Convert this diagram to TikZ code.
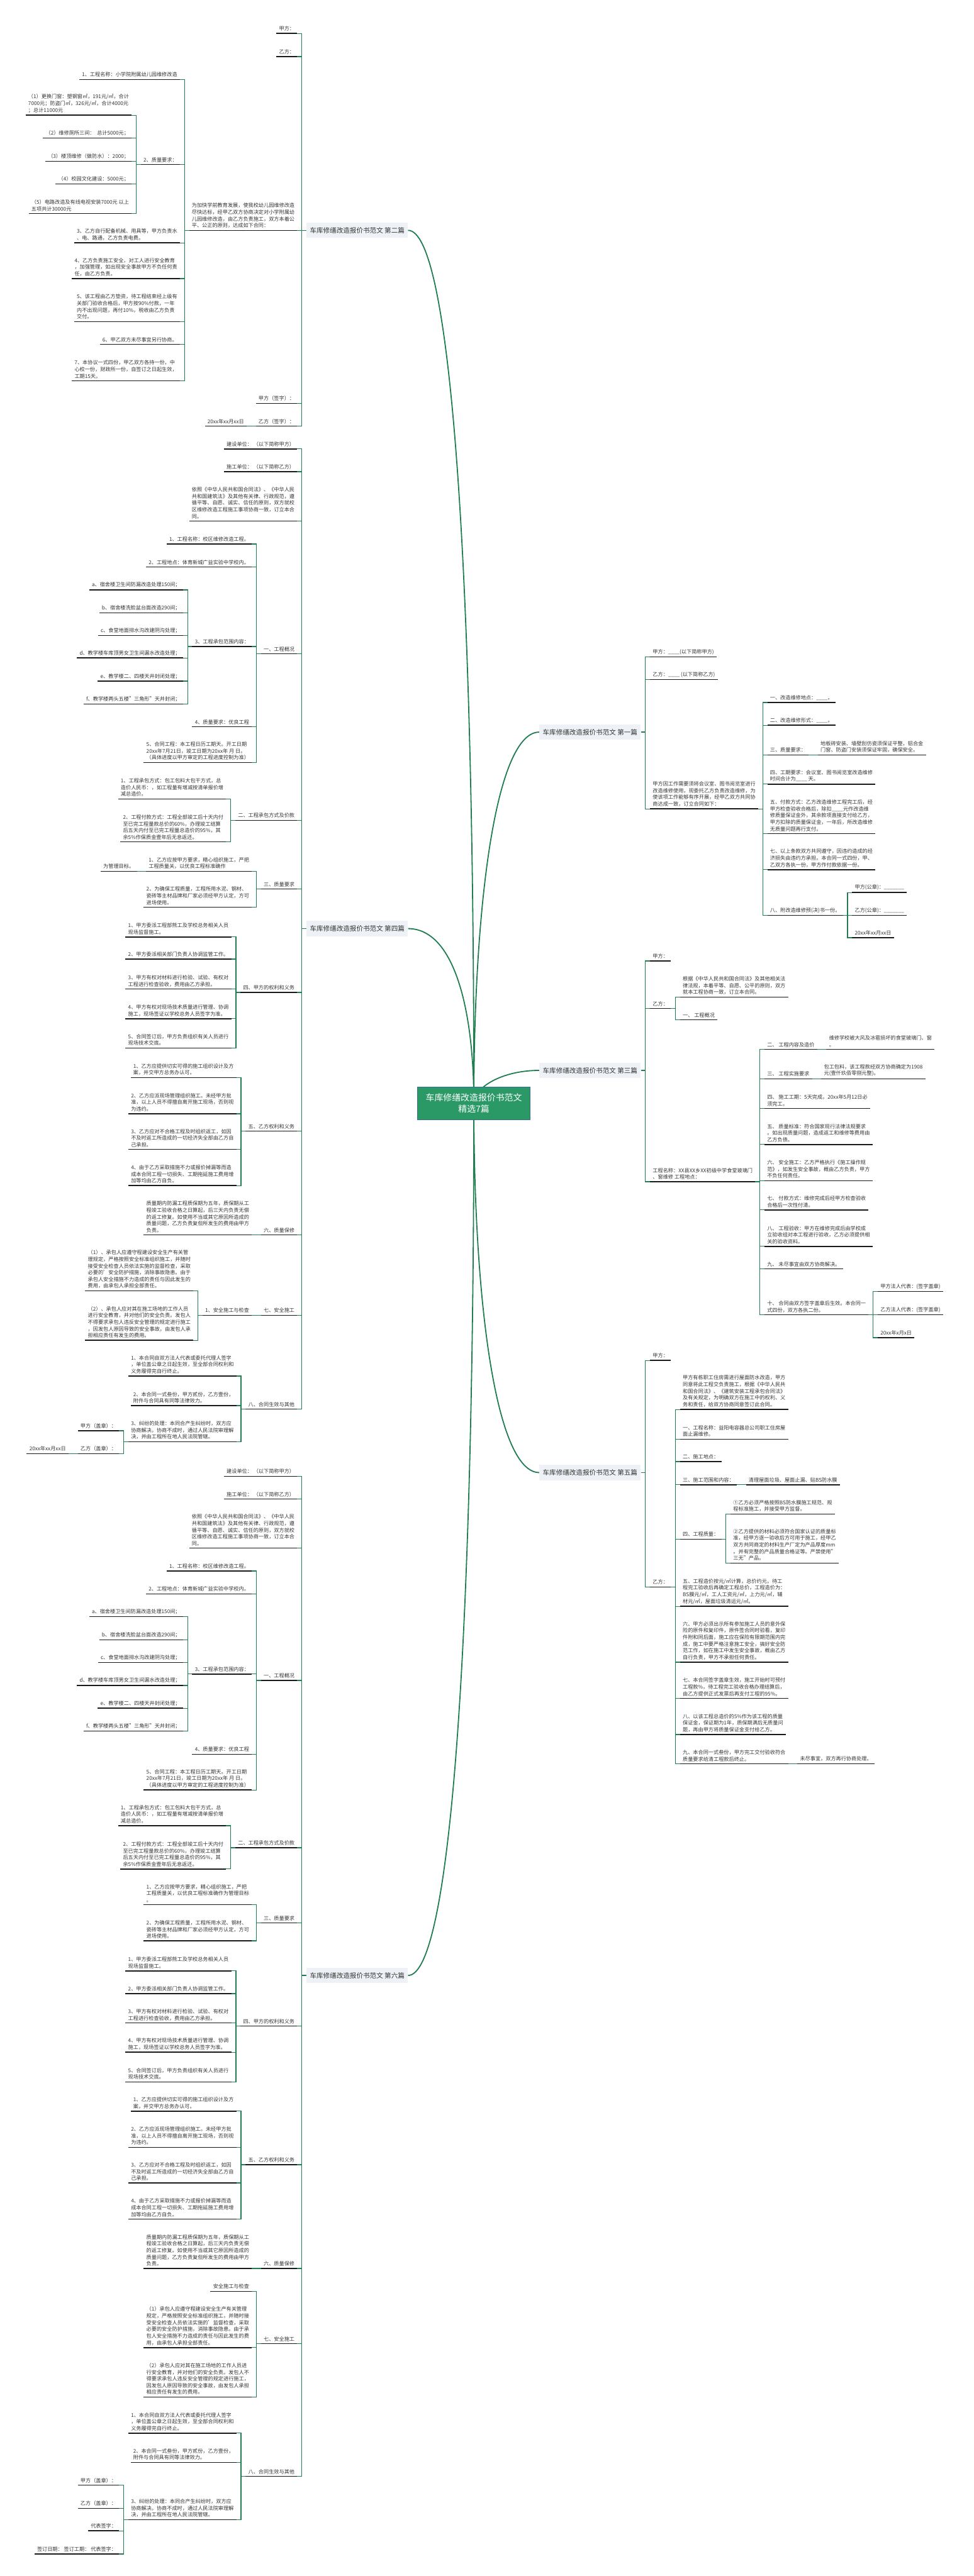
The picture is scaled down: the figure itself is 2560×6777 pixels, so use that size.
\documentclass[tikz,border=0pt]{standalone}
\usepackage{fontspec}
\setmainfont{Noto Sans CJK SC}
\usepackage{tikz}
\usetikzlibrary{positioning, backgrounds}
\definecolor{linegreen}{RGB}{32,125,82}
\definecolor{rootgreen}{RGB}{42,153,102}
\definecolor{rootedge}{RGB}{58,108,150}
\definecolor{boxgray}{RGB}{238,241,245}
\definecolor{txtgray}{RGB}{51,51,51}
\definecolor{ulblack}{RGB}{25,25,25}
\newcommand{\leaffont}{\fontsize{13.5}{17.6}\selectfont}
\newcommand{\branchfont}{\fontsize{17.5}{21}\selectfont}
\newcommand{\rootfont}{\fontsize{23}{30}\selectfont}

\begin{document}
\begin{tikzpicture}[x=1pt, y=-1pt,
  uline/.style={draw=ulblack, line width=2.4pt},
  leaf/.style={align=left, inner xsep=7pt, inner ysep=6pt, font=\leaffont, text=txtgray,
    append after command={(\tikzlastnode.south west) edge[uline] (\tikzlastnode.south east)}},
  lf/.style={leaf, anchor=south east, xshift=-24pt},
  rt/.style={leaf, anchor=south west, xshift=24pt},
  branchbox/.style={fill=boxgray, font=\branchfont, text=txtgray, minimum height=40pt, inner xsep=9pt},
  rootbox/.style={fill=rootgreen, draw=rootedge, line width=1.5pt, text=white, font=\rootfont,
    align=center, minimum width=295pt, minimum height=86pt},
  conn/.style={draw=linegreen, line width=2pt},
  trunk/.style={draw=linegreen, line width=3pt}
]
\useasboundingbox (0,0) rectangle (2560,6777);

\node[rootbox] (root) at (1246,2902) {车库修缮改造报价书范文\\精选7篇};

\node[branchbox, anchor=east] (b2) at (1073,606) {车库修缮改造报价书范文 第二篇};
\node[branchbox, anchor=east] (b4) at (1073,2443) {车库修缮改造报价书范文 第四篇};
\node[branchbox, anchor=east] (b6) at (1073,5197) {车库修缮改造报价书范文 第六篇};
\node[branchbox, anchor=west] (b1) at (1418,1926) {车库修缮改造报价书范文 第一篇};
\node[branchbox, anchor=west] (b3) at (1418,2816) {车库修缮改造报价书范文 第三篇};
\node[branchbox, anchor=west] (b5) at (1418,3874) {车库修缮改造报价书范文 第五篇};

% ---- 第二篇
\node[lf] (b2a) at (b2.west |- 0,88) {甲方：};
\node[lf] (b2b) at (b2.west |- 0,149) {乙方：};
\node[lf] (b2c) at (b2.west |- 0,606) {为加快学前教育发展，使我校幼儿园维修改造\\尽快达标，经甲乙双方协商决定对小学附属幼\\儿园维修改造，由乙方负责施工，双方本着公\\平、公正的原则，达成如下合同：};
\node[lf] (b2d) at (b2.west |- 0,1061) {甲方（签字）：};
\node[lf] (b2e) at (b2.west |- 0,1121) {乙方（签字）：};
\node[lf] (b2e1) at (b2e.south west |- 0,1121) {20xx年xx月xx日};
\node[lf] (b2c1) at (b2c.south west |- 0,209) {1、工程名称：小学院附属幼儿园维修改造};
\node[lf] (b2c2) at (b2c.south west |- 0,433) {2、质量要求：};
\node[lf] (b2c3) at (b2c.south west |- 0,639) {3、乙方自行配备机械、用具等，甲方负责水\\、电、路通，乙方负责电费。};
\node[lf] (b2c4) at (b2c.south west |- 0,733) {4、乙方负责施工安全，对工人进行安全教育\\，加强管理，如出现安全事故甲方不负任何责\\任，由乙方负责。};
\node[lf] (b2c5) at (b2c.south west |- 0,846) {5、该工程由乙方垫资，待工程结束经上级有\\关部门验收合格后，甲方按90\%付款，一年\\内不出现问题，再付10\%，税收由乙方负责\\交付。};
\node[lf] (b2c6) at (b2c.south west |- 0,906) {6、甲乙双方未尽事宜另行协商。};
\node[lf] (b2c7) at (b2c.south west |- 0,1002) {7、本协议一式四份，甲乙双方各持一份，中\\心校一份，财政所一份，自签订之日起生效，\\工期15天。};
\node[lf] (b2q1) at (b2c2.south west |- 0,303) {（1）更换门窗：塑钢窗㎡，191元/㎡，合计\\7000元；防盗门㎡，326元/㎡，合计4000元\\；总计11000元};
\node[lf] (b2q2) at (b2c2.south west |- 0,363) {（2）维修厕所三间：\ \ 总计5000元；};
\node[lf] (b2q3) at (b2c2.south west |- 0,424) {（3）楼顶维修（做防水）：2000；};
\node[lf] (b2q4) at (b2c2.south west |- 0,484) {（4）校园文化建设：5000元；};
\node[lf] (b2q5) at (b2c2.south west |- 0,562) {（5）电路改造及有线电视安装7000元 以上\\五项共计30000元};

% ---- 第四篇
\node[lf] (b4a) at (b4.west |- 0,1181) {建设单位：\ （以下简称甲方）};
\node[lf] (b4b) at (b4.west |- 0,1241) {施工单位：\ （以下简称乙方）};
\node[lf] (b4c) at (b4.west |- 0,1371) {依照《中华人民共和国合同法》、《中华人民\\共和国建筑法》及其他有关律、行政规范，遵\\循平等、自愿、诚实、信任的原则，双方就校\\区维修改造工程施工事项协商一致，订立本合\\同。};
\node[lf] (b4d) at (b4.west |- 0,1720) {一、工程概况};
\node[lf] (b4e) at (b4.west |- 0,2158) {二、工程承包方式及价款};
\node[lf] (b4f) at (b4.west |- 0,2339) {三、质量要求};
\node[lf] (b4g) at (b4.west |- 0,2611) {四、甲方的权利和义务};
\node[lf] (b4h) at (b4.west |- 0,2976) {五、乙方权利和义务};
\node[lf] (b4i) at (b4.west |- 0,3249) {六、质量保修};
\node[lf] (b4j) at (b4.west |- 0,3460) {七、安全施工};
\node[lf] (b4k) at (b4.west |- 0,3707) {八、合同生效与其他};
\node[lf] (b4d1) at (b4d.south west |- 0,1431) {1、工程名称：校区维修改造工程。};
\node[lf] (b4d2) at (b4d.south west |- 0,1492) {2、工程地点：体育新城广益实验中学校内。};
\node[lf] (b4d3) at (b4d.south west |- 0,1701) {3、工程承包范围内容：};
\node[lf] (b4d4) at (b4d.south west |- 0,1912) {4、质量要求：优良工程};
\node[lf] (b4d5) at (b4d.south west |- 0,2006) {5、合同工程：本工程日历工期天。开工日期\\20xx年7月21日，竣工日期为20xx年 月 日。\\（具体进度以甲方审定的工程进度控制为准）};
\node[lf] (b4d3a) at (b4d3.south west |- 0,1552) {a、宿舍楼卫生间防漏改造处理150间；};
\node[lf] (b4d3b) at (b4d3.south west |- 0,1612) {b、宿舍楼洗脸盆台面改造290间；};
\node[lf] (b4d3c) at (b4d3.south west |- 0,1672) {c、食堂地面排水沟改建阴沟处理；};
\node[lf] (b4d3d) at (b4d3.south west |- 0,1731) {d、教学楼车库顶男女卫生间漏水改造处理；};
\node[lf] (b4d3e) at (b4d3.south west |- 0,1792) {e、教学楼二、四楼天井封闭处理；};
\node[lf] (b4d3f) at (b4d3.south west |- 0,1852) {f、教学楼两头五楼"三角形"天井封闭；};
\node[lf] (b4e1) at (b4e.south west |- 0,2102) {1、工程承包方式：包工包料大包干方式，总\\造价人民币：，如工程量有增减按清单报价增\\减总造价。};
\node[lf] (b4e2) at (b4e.south west |- 0,2215) {2、工程付款方式：工程全部竣工后十天内付\\至已完工程量款总价的60\%，办理竣工结算\\后五天内付至已完工程量总造价的95\%，其\\余5\%作保质金壹年后无息返还。};
\node[lf] (b4f1) at (b4f.south west |- 0,2292) {1、乙方应按甲方要求，精心组织施工，严把\\工程质量关，以优良工程标准确作};
\node[lf] (b4f1a) at (b4f1.south west |- 0,2292) {为管理目标。};
\node[lf] (b4f2) at (b4f.south west |- 0,2387) {2、为确保工程质量，工程所用水泥、钢材、\\瓷砖等主材品牌和厂家必须经甲方认定，方可\\进场使用。};
\node[lf] (b4g1) at (b4g.south west |- 0,2465) {1、甲方委派工程部熊工及学校总务相关人员\\现场监督施工。};
\node[lf] (b4g2) at (b4g.south west |- 0,2523) {2、甲方委派相关部门负责人协调监管工作。};
\node[lf] (b4g3) at (b4g.south west |- 0,2602) {3、甲方有权对材料进行检验、试验、有权对\\工程进行检查验收，费用由乙方承担。};
\node[lf] (b4g4) at (b4g.south west |- 0,2680) {4、甲方有权对现场技术质量进行管理、协调\\施工，现场签证以学校总务人员签字为准。};
\node[lf] (b4g5) at (b4g.south west |- 0,2757) {5、合同签订后，甲方负责组织有关人员进行\\现场技术交底。};
\node[lf] (b4h1) at (b4h.south west |- 0,2835) {1、乙方应提供切实可得的施工组织设计及方\\案，并交甲方总务办认可。};
\node[lf] (b4h2) at (b4h.south west |- 0,2930) {2、乙方应派现场管理组织施工。未经甲方批\\准，以上人员不得擅自离开施工现场，否则视\\为违约。};
\node[lf] (b4h3) at (b4h.south west |- 0,3024) {3、乙方应对不合格工程及时组织返工，如因\\不及时返工所造成的一切经济失全部由乙方自\\己承担。};
\node[lf] (b4h4) at (b4h.south west |- 0,3119) {4、由于乙方采取措施不力或报价掉漏等而造\\成本合同工程一切损失、工期拖延施工费用增\\加等均由乙方自负。};
\node[lf] (b4i1) at (b4i.south west |- 0,3249) {质量期内防漏工程质保期为五年，质保期从工\\程竣工验收合格之日算起，后三天内负责无偿\\的返工修复。如使用不当或其它原因所造成的\\质量问题，乙方负责复但所发生的费用由甲方\\负责。};
\node[lf] (b4j1) at (b4j.south west |- 0,3460) {1、安全施工与检查};
\node[lf] (b4j1a) at (b4j1.south west |- 0,3396) {（1）、承包人应遵守程建设安全生产有关管\\理规定，严格按照安全标准组织施工，并随时\\接受安全检查人员依法实施的监督检查，采取\\必要的'安全防护措施，消除事故隐患。由于\\承包人安全措施不力造成的责任与因此发生的\\费用，由承包人承担全部责任。};
\node[lf] (b4j1b) at (b4j1.south west |- 0,3526) {（2）、承包人应对其在施工场地的工作人员\\进行安全教育，并对他们的安全负责。发包人\\不得要求承包人违反安全管理的规定进行施工\\，因发包人原因导致的安全事故，由发包人承\\担相应责任有发生的费用。};
\node[lf] (b4k1) at (b4k.south west |- 0,3620) {1、本合同自双方法人代表或委托代理人签字\\，单位盖公章之日起生效，至全部合同权利和\\义务履得完自行终止。};
\node[lf] (b4k2) at (b4k.south west |- 0,3698) {2、本合同一式叁份，甲方贰份，乙方壹份，\\附件与合同具有同等法律效力。};
\node[lf] (b4k3) at (b4k.south west |- 0,3793) {3、纠纷的处理：本同合产生纠纷时，双方应\\协商解决。协商不成时，通过人民法院审理解\\决，并由工程所在地人民法院管辖。};
\node[lf] (b4k3a) at (b4k3.south west |- 0,3764) {甲方（盖章）：};
\node[lf] (b4k3b) at (b4k3.south west |- 0,3824) {乙方（盖章）：};
\node[lf] (b4k3b1) at (b4k3b.south west |- 0,3824) {20xx年xx月xx日};

% ---- 第六篇
\node[lf] (b6a) at (b6.west |- 0,3884) {建设单位：\ （以下简称甲方）};
\node[lf] (b6b) at (b6.west |- 0,3944) {施工单位：\ （以下简称乙方）};
\node[lf] (b6c) at (b6.west |- 0,4073) {依照《中华人民共和国合同法》、《中华人民\\共和国建筑法》及其他有关律、行政规范，遵\\循平等、自愿、诚实、信任的原则，双方就校\\区维修改造工程施工事项协商一致，订立本合\\同。};
\node[lf] (b6d) at (b6.west |- 0,4421) {一、工程概况};
\node[lf] (b6e) at (b6.west |- 0,4861) {二、工程承包方式及价款};
\node[lf] (b6f) at (b6.west |- 0,5059) {三、质量要求};
\node[lf] (b6g) at (b6.west |- 0,5330) {四、甲方的权利和义务};
\node[lf] (b6h) at (b6.west |- 0,5695) {五、乙方权利和义务};
\node[lf] (b6i) at (b6.west |- 0,5968) {六、质量保修};
\node[lf] (b6j) at (b6.west |- 0,6166) {七、安全施工};
\node[lf] (b6k) at (b6.west |- 0,6515) {八、合同生效与其他};
\node[lf] (b6d1) at (b6d.south west |- 0,4133) {1、工程名称：校区维修改造工程。};
\node[lf] (b6d2) at (b6d.south west |- 0,4193) {2、工程地点：体育新城广益实验中学校内。};
\node[lf] (b6d3) at (b6d.south west |- 0,4404) {3、工程承包范围内容：};
\node[lf] (b6d4) at (b6d.south west |- 0,4615) {4、质量要求：优良工程};
\node[lf] (b6d5) at (b6d.south west |- 0,4709) {5、合同工程：本工程日历工期天。开工日期\\20xx年7月21日，竣工日期为20xx年 月 日。\\（具体进度以甲方审定的工程进度控制为准）};
\node[lf] (b6d3a) at (b6d3.south west |- 0,4253) {a、宿舍楼卫生间防漏改造处理150间；};
\node[lf] (b6d3b) at (b6d3.south west |- 0,4314) {b、宿舍楼洗脸盆台面改造290间；};
\node[lf] (b6d3c) at (b6d3.south west |- 0,4374) {c、食堂地面排水沟改建阴沟处理；};
\node[lf] (b6d3d) at (b6d3.south west |- 0,4434) {d、教学楼车库顶男女卫生间漏水改造处理；};
\node[lf] (b6d3e) at (b6d3.south west |- 0,4494) {e、教学楼二、四楼天井封闭处理；};
\node[lf] (b6d3f) at (b6d3.south west |- 0,4554) {f、教学楼两头五楼"三角形"天井封闭；};
\node[lf] (b6e1) at (b6e.south west |- 0,4803) {1、工程承包方式：包工包料大包干方式，总\\造价人民币：，如工程量有增减按清单报价增\\减总造价。};
\node[lf] (b6e2) at (b6e.south west |- 0,4917) {2、工程付款方式：工程全部竣工后十天内付\\至已完工程量款总价的60\%，办理竣工结算\\后五天内付至已完工程量总造价的95\%，其\\余5\%作保质金壹年后无息返还。};
\node[lf] (b6f1) at (b6f.south west |- 0,5011) {1、乙方应按甲方要求，精心组织施工，严把\\工程质量关，以优良工程标准确作为管理目标\\。};
\node[lf] (b6f2) at (b6f.south west |- 0,5106) {2、为确保工程质量，工程所用水泥、钢材、\\瓷砖等主材品牌和厂家必须经甲方认定，方可\\进场使用。};
\node[lf] (b6g1) at (b6g.south west |- 0,5185) {1、甲方委派工程部熊工及学校总务相关人员\\现场监督施工。};
\node[lf] (b6g2) at (b6g.south west |- 0,5245) {2、甲方委派相关部门负责人协调监管工作。};
\node[lf] (b6g3) at (b6g.south west |- 0,5322) {3、甲方有权对材料进行检验、试验、有权对\\工程进行检查验收，费用由乙方承担。};
\node[lf] (b6g4) at (b6g.south west |- 0,5399) {4、甲方有权对现场技术质量进行管理、协调\\施工，现场签证以学校总务人员签字为准。};
\node[lf] (b6g5) at (b6g.south west |- 0,5477) {5、合同签订后，甲方负责组织有关人员进行\\现场技术交底。};
\node[lf] (b6h1) at (b6h.south west |- 0,5554) {1、乙方应提供切实可得的施工组织设计及方\\案，并交甲方总务办认可。};
\node[lf] (b6h2) at (b6h.south west |- 0,5649) {2、乙方应派现场管理组织施工。未经甲方批\\准，以上人员不得擅自离开施工现场，否则视\\为违约。};
\node[lf] (b6h3) at (b6h.south west |- 0,5743) {3、乙方应对不合格工程及时组织返工，如因\\不及时返工所造成的一切经济失全部由乙方自\\己承担。};
\node[lf] (b6h4) at (b6h.south west |- 0,5838) {4、由于乙方采取措施不力或报价掉漏等而造\\成本合同工程一切损失、工期拖延施工费用增\\加等均由乙方自负。};
\node[lf] (b6i1) at (b6i.south west |- 0,5968) {质量期内防漏工程质保期为五年，质保期从工\\程竣工验收合格之日算起，后三天内负责无偿\\的返工修复。如使用不当或其它原因所造成的\\质量问题，乙方负责复但所发生的费用由甲方\\负责。};
\node[lf] (b6j1) at (b6j.south west |- 0,6028) {安全施工与检查};
\node[lf] (b6j2) at (b6j.south west |- 0,6176) {（1）承包人应遵守程建设安全生产有关管理\\规定，严格按照安全标准组织施工，并随时接\\受安全检查人员依法实施的'监督检查，采取\\必要的安全防护措施，消除事故隐患。由于承\\包人安全措施不力造成的责任与因此发生的费\\用，由承包人承担全部责任。};
\node[lf] (b6j3) at (b6j.south west |- 0,6306) {（2）承包人应对其在施工场地的工作人员进\\行安全教育，并对他们的安全负责。发包人不\\得要求承包人违反安全管理的规定进行施工，\\因发包人原因导致的安全事故，由发包人承担\\相应责任有发生的费用。};
\node[lf] (b6k1) at (b6k.south west |- 0,6401) {1、本合同自双方法人代表或委托代理人签字\\，单位盖公章之日起生效，至全部合同权利和\\义务履得完自行终止。};
\node[lf] (b6k2) at (b6k.south west |- 0,6478) {2、本合同一式叁份，甲方贰份，乙方壹份，\\附件与合同具有同等法律效力。};
\node[lf] (b6k3) at (b6k.south west |- 0,6629) {3、纠纷的处理：本同合产生纠纷时，双方应\\协商解决。协商不成时，通过人民法院审理解\\决，并由工程所在地人民法院管辖。};
\node[lf] (b6k3a) at (b6k3.south west |- 0,6538) {甲方（盖章）：};
\node[lf] (b6k3b) at (b6k3.south west |- 0,6599) {乙方（盖章）：};
\node[lf] (b6k3c) at (b6k3.south west |- 0,6658) {代表签字：};
\node[lf] (b6k3d) at (b6k3.south west |- 0,6719) {签订日期：\ 签订工期：\ 代表签字：};

% ---- 第一篇
\node[rt] (b1a) at (b1.east |- 0,1728) {甲方：\_\_\_\_(以下简称甲方)};
\node[rt] (b1b) at (b1.east |- 0,1788) {乙方：\_\_\_\_ (以下简称乙方)};
\node[rt] (b1c) at (b1.east |- 0,2128) {甲方因工作需要须将会议室、图书阅览室进行\\改造维修使用，现委托乙方负责改造维修，为\\使该项工作能够有序开展，经甲乙双方共同协\\商达成一致，订立合同如下：};
\node[rt] (b1c1) at (b1c.south east |- 0,1848) {一、改造维修地点：\_\_\_\_。};
\node[rt] (b1c2) at (b1c.south east |- 0,1908) {二、改造维修形式：\_\_\_\_。};
\node[rt] (b1c3) at (b1c.south east |- 0,1986) {三、质量要求：};
\node[rt] (b1c3a) at (b1c3.south east |- 0,1986) {地板砖安装、墙壁刮仿瓷须保证平整，铝合金\\门窗、防盗门安装须保证牢固，确保安全。};
\node[rt] (b1c4) at (b1c.south east |- 0,2063) {四、工期要求：会议室、图书阅览室改造维修\\时间合计为\_\_\_\_ 天。};
\node[rt] (b1c5) at (b1c.south east |- 0,2193) {五、付款方式：乙方改造维修工程完工后，经\\甲方检查验收合格后，除扣\_\_\_\_元作改造维\\修质量保证金外，其余款项直接支付给乙方，\\甲方扣除的质量保证金，一年后，所改造维修\\无质量问题再行支付。};
\node[rt] (b1c6) at (b1c.south east |- 0,2288) {七、以上条款双方共同遵守，因违约造成的经\\济损失由违约方承担。本合同一式四份，甲、\\乙双方各执一份，甲方作付款依据一份。};
\node[rt] (b1c7) at (b1c.south east |- 0,2408) {八、附改造维修预(决)书一份。};
\node[rt] (b1c7a) at (b1c7.south east |- 0,2348) {甲方(公章)：\_\_\_\_\_\_\_};
\node[rt] (b1c7b) at (b1c7.south east |- 0,2408) {乙方(公章)：\_\_\_\_\_\_\_};
\node[rt] (b1c7c) at (b1c7.south east |- 0,2467) {20xx年xx月xx日};

% ---- 第三篇
\node[rt] (b3a) at (b3.east |- 0,2528) {甲方：};
\node[rt] (b3b) at (b3.east |- 0,2653) {乙方：};
\node[rt] (b3c) at (b3.east |- 0,3109) {工程名称：XX县XX乡XX初级中学食堂玻璃门\\、窗维修 工程地点：};
\node[rt] (b3b1) at (b3b.south east |- 0,2623) {根据《中华人民共和国合同法》及其他相关法\\律法规，本着平等、自愿、公平的原则，双方\\就本工程协商一致，订立本合同。};
\node[rt] (b3b2) at (b3b.south east |- 0,2683) {一、 工程概况};
\node[rt] (b3c1) at (b3c.south east |- 0,2761) {二、 工程内容及造价};
\node[rt] (b3c1a) at (b3c1.south east |- 0,2761) {维修学校被大风及冰雹损坏的食堂玻璃门、窗\\。};
\node[rt] (b3c2) at (b3c.south east |- 0,2838) {三、 工程实施要求};
\node[rt] (b3c2a) at (b3c2.south east |- 0,2838) {包工包料，该工程款经双方协商确定为1908\\元(壹仟玖佰零捌元整)。};
\node[rt] (b3c3) at (b3c.south east |- 0,2916) {四、 施工工期：5天完成，20xx年5月12日必\\须完工。};
\node[rt] (b3c4) at (b3c.south east |- 0,3011) {五、 质量标准：符合国家现行法律法规要求\\。如出现质量问题，造成返工和维修等费用由\\乙方负债。};
\node[rt] (b3c5) at (b3c.south east |- 0,3106) {六、 安全施工：乙方严格执行《施工操作规\\范》，如发生安全事故，概由乙方负责，甲方\\不负任何责任。};
\node[rt] (b3c6) at (b3c.south east |- 0,3183) {七、 付款方式：维修完成后经甲方检查验收\\合格后一次性付清。};
\node[rt] (b3c7) at (b3c.south east |- 0,3279) {八、 工程验收：甲方在维修完成后由学校成\\立验收组对本工程进行验收，乙方必须提供相\\关的验收资料。};
\node[rt] (b3c8) at (b3c.south east |- 0,3338) {九、 未尽事宜由双方协商解决。};
\node[rt] (b3c9) at (b3c.south east |- 0,3459) {十、 合同由双方签字盖章后生效。本合同一\\式四份，双方各执二份。};
\node[rt] (b3c9a) at (b3c9.south east |- 0,3398) {甲方法人代表：(签字盖章)};
\node[rt] (b3c9b) at (b3c9.south east |- 0,3459) {乙方法人代表：(签字盖章)};
\node[rt] (b3c9c) at (b3c9.south east |- 0,3519) {20xx年x月x日};

% ---- 第五篇
\node[rt] (b5a) at (b5.east |- 0,3579) {甲方：};
\node[rt] (b5b) at (b5.east |- 0,4175) {乙方：};
\node[rt] (b5b1) at (b5b.south east |- 0,3708) {甲方有栋职工住房需进行屋面防水改造，甲方\\同意将此工程交负责施工，根据《中华人民共\\和国合同法》、《建筑安装工程承包合同法》\\及有关规定，为明确双方在施工中的权利、义\\务和责任，给双方协商同意签订此合同。};
\node[rt] (b5b2) at (b5b.south east |- 0,3786) {一、工程名称：益阳电容器总公司职工住房屋\\面止漏维修。};
\node[rt] (b5b3) at (b5b.south east |- 0,3845) {二、施工地点：};
\node[rt] (b5b4) at (b5b.south east |- 0,3906) {三、施工范围和内容：};
\node[rt] (b5b4a) at (b5b4.south east |- 0,3906) {清理屋面垃圾、屋面止漏、贴BS防水膜};
\node[rt] (b5b5) at (b5b.south east |- 0,4049) {四、工程质量：};
\node[rt] (b5b5a) at (b5b5.south east |- 0,3983) {①乙方必须严格按照BS防水膜施工规范、规\\程标准施工，并接受甲方监督。};
\node[rt] (b5b5b) at (b5b5.south east |- 0,4112) {②乙方提供的材料必须符合国家认证的质量标\\准，经甲方逐一验收后方可用于施工，经甲乙\\双方共同商定的材料生产厂定为产品厚度mm\\。并有完整的产品质量合格证等。严禁使用"\\三无"产品。};
\node[rt] (b5b6) at (b5b.south east |- 0,4226) {五、工程造价按元/㎡计算，总价约元，待工\\程完工验收后再确定工程总价，工程造价为：\\BS膜元/㎡，工人工资元/㎡，上力元/㎡，辅\\材元/㎡，屋面垃圾清运元/㎡。};
\node[rt] (b5b7) at (b5b.south east |- 0,4373) {六、甲方必须出示所有参加施工人员的意外保\\险的原件和复印件，原件签合同时验看，复印\\件附和同后面，施工应在保险有限期范围内完\\成，施工中要严格注意施工安全，搞好安全防\\范工作，如在施工中发生安全事故，概由乙方\\自行负责，甲方不承担任何责任。};
\node[rt] (b5b8) at (b5b.south east |- 0,4468) {七、本合同签字盖章生效，施工开始时可预付\\工程款\%，待工程完工验收合格办理结算后，\\由乙方提供正式发票后再支付工程的95\%。};
\node[rt] (b5b9) at (b5b.south east |- 0,4563) {八、以该工程总造价的5\%作为该工程的质量\\保证金，保证期为1年，质保期满后无质量问\\题，再由甲方将质量保证金支付给乙方。};
\node[rt] (b5b10) at (b5b.south east |- 0,4640) {九、本合同一式叁份，甲方完工交付验收符合\\质量要求给清工程款后终止。};
\node[rt] (b5b10a) at (b5b10.south east |- 0,4640) {未尽事宜，双方再行协商处理。};

% connectors, left side
\foreach \c in {b2a,b2b,b2c,b2d,b2e}
  \draw[conn] (b2.west) -- ++(-12,0) |- (\c.south east);
\foreach \c in {b4a,b4b,b4c,b4d,b4e,b4f,b4g,b4h,b4i,b4j,b4k}
  \draw[conn] (b4.west) -- ++(-12,0) |- (\c.south east);
\foreach \c in {b6a,b6b,b6c,b6d,b6e,b6f,b6g,b6h,b6i,b6j,b6k}
  \draw[conn] (b6.west) -- ++(-12,0) |- (\c.south east);
\foreach \p/\c in {b2e/b2e1, b2c/b2c1, b2c/b2c2, b2c/b2c3, b2c/b2c4, b2c/b2c5, b2c/b2c6, b2c/b2c7,
    b2c2/b2q1, b2c2/b2q2, b2c2/b2q3, b2c2/b2q4, b2c2/b2q5,
    b4d/b4d1, b4d/b4d2, b4d/b4d3, b4d/b4d4, b4d/b4d5,
    b4d3/b4d3a, b4d3/b4d3b, b4d3/b4d3c, b4d3/b4d3d, b4d3/b4d3e, b4d3/b4d3f,
    b4e/b4e1, b4e/b4e2, b4f/b4f1, b4f1/b4f1a, b4f/b4f2,
    b4g/b4g1, b4g/b4g2, b4g/b4g3, b4g/b4g4, b4g/b4g5,
    b4h/b4h1, b4h/b4h2, b4h/b4h3, b4h/b4h4, b4i/b4i1,
    b4j/b4j1, b4j1/b4j1a, b4j1/b4j1b,
    b4k/b4k1, b4k/b4k2, b4k/b4k3, b4k3/b4k3a, b4k3/b4k3b, b4k3b/b4k3b1,
    b6d/b6d1, b6d/b6d2, b6d/b6d3, b6d/b6d4, b6d/b6d5,
    b6d3/b6d3a, b6d3/b6d3b, b6d3/b6d3c, b6d3/b6d3d, b6d3/b6d3e, b6d3/b6d3f,
    b6e/b6e1, b6e/b6e2, b6f/b6f1, b6f/b6f2,
    b6g/b6g1, b6g/b6g2, b6g/b6g3, b6g/b6g4, b6g/b6g5,
    b6h/b6h1, b6h/b6h2, b6h/b6h3, b6h/b6h4, b6i/b6i1,
    b6j/b6j1, b6j/b6j2, b6j/b6j3,
    b6k/b6k1, b6k/b6k2, b6k/b6k3, b6k3/b6k3a, b6k3/b6k3b, b6k3/b6k3c, b6k3/b6k3d}
  \draw[conn] (\p.south west) -- ++(-12,0) |- (\c.south east);

% connectors, right side
\foreach \c in {b1a,b1b,b1c}
  \draw[conn] (b1.east) -- ++(12,0) |- (\c.south west);
\foreach \c in {b3a,b3b,b3c}
  \draw[conn] (b3.east) -- ++(12,0) |- (\c.south west);
\foreach \c in {b5a,b5b}
  \draw[conn] (b5.east) -- ++(12,0) |- (\c.south west);
\foreach \p/\c in {b1c/b1c1, b1c/b1c2, b1c/b1c3, b1c3/b1c3a, b1c/b1c4, b1c/b1c5, b1c/b1c6, b1c/b1c7,
    b1c7/b1c7a, b1c7/b1c7b, b1c7/b1c7c,
    b3b/b3b1, b3b/b3b2, b3c/b3c1, b3c1/b3c1a, b3c/b3c2, b3c2/b3c2a, b3c/b3c3, b3c/b3c4,
    b3c/b3c5, b3c/b3c6, b3c/b3c7, b3c/b3c8, b3c/b3c9, b3c9/b3c9a, b3c9/b3c9b, b3c9/b3c9c,
    b5b/b5b1, b5b/b5b2, b5b/b5b3, b5b/b5b4, b5b4/b5b4a, b5b/b5b5, b5b5/b5b5a, b5b5/b5b5b,
    b5b/b5b6, b5b/b5b7, b5b/b5b8, b5b/b5b9, b5b/b5b10, b5b10/b5b10a}
  \draw[conn] (\p.south east) -- ++(12,0) |- (\c.south west);

% main branches
\begin{scope}[on background layer]
  \draw[trunk] (root.center) .. controls +(0,-1450) and +(110,0) .. (b2.east);
  \draw[trunk] (root.center) .. controls +(0,-250) and +(120,0) .. (b4.east);
  \draw[trunk] (root.center) .. controls +(0,1450) and +(110,0) .. (b6.east);
  \draw[trunk] (root.center) .. controls +(0,-550) and +(-110,0) .. (b1.west);
  \draw[trunk] (root.center) .. controls +(0,-40) and +(-100,0) .. (b3.west);
  \draw[trunk] (root.center) .. controls +(0,550) and +(-110,0) .. (b5.west);
\end{scope}
\end{tikzpicture}
\end{document}
